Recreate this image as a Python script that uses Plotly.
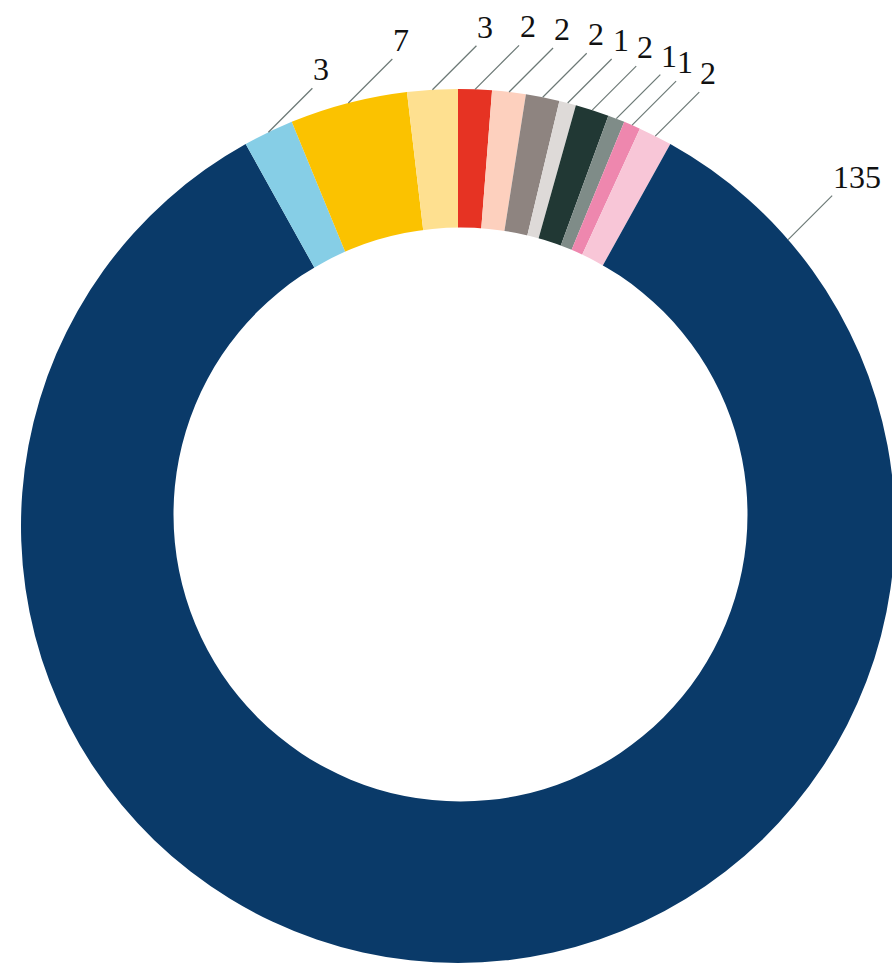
import math
import plotly.graph_objects as go

# ---- data (clockwise from 12 o'clock) ----
categories = ["Cat A", "Cat B", "Cat C", "Cat D", "Cat E", "Cat F",
              "Cat G", "Cat H", "Cat I", "Cat J", "Cat K", "Cat L"]
values = [2, 2, 2, 1, 2, 1, 1, 2, 135, 3, 7, 3]
colors = ["#E63323", "#FDD0BE", "#8E8480", "#DEDAD8", "#213834", "#7F8C88",
          "#EE87AE", "#F8C6D7", "#0A3A69", "#86CEE6", "#FBC200", "#FEE090"]
value_labels = [str(v) for v in values]

# ---- layout geometry (pixels) ----
ML, MT = 21, 89
PW = PH = 874
W = ML + PW
H = 965
MR = 0
MB = H - MT - PH
R = PW / 2.0
CX, CY = ML + PW / 2.0, MT + PH / 2.0
LEAD_DX, LEAD_DY = 44, -44      # leader line direction/length
MAX_ANCHOR_OFFSET = 20.0        # degrees into a slice for the label anchor
HOLE_R = 287                    # inner hole radius (px)
HOLE_DX, HOLE_DY = 2.5, -11.5   # hole centre offset (px)


def px2x(px):
    return (px - ML) / PW


def py2y(py):
    return 1 - (py - MT) / PH


total = float(sum(values))
fig = go.Figure(go.Pie(
    labels=categories, values=values, sort=False, direction="clockwise",
    rotation=0, hole=0.6, textinfo="none", showlegend=False,
    marker=dict(colors=colors, line=dict(width=0)),
))

shapes, annotations = [], []
cum = 0.0
for v, lab in zip(values, value_labels):
    start_deg = cum / total * 360.0
    mid_deg = (cum + v / 2.0) / total * 360.0
    cum += v
    ang = math.radians(min(mid_deg, start_deg + MAX_ANCHOR_OFFSET))
    sx, sy = CX + R * math.sin(ang), CY - R * math.cos(ang)
    ex, ey = sx + LEAD_DX, sy + LEAD_DY
    shapes.append(dict(type="line", xref="paper", yref="paper",
                       x0=px2x(sx), y0=py2y(sy), x1=px2x(ex), y1=py2y(ey),
                       line=dict(color="#6B7875", width=1.2)))
    annotations.append(dict(xref="paper", yref="paper", x=px2x(ex), y=py2y(ey),
                            xanchor="left", yanchor="bottom", showarrow=False,
                            text=lab, borderpad=0,
                            font=dict(family="Liberation Serif", size=32, color="#111111")))

hx, hy = CX + HOLE_DX, CY + HOLE_DY
shapes.append(dict(type="circle", xref="paper", yref="paper", layer="above",
                   x0=px2x(hx - HOLE_R), x1=px2x(hx + HOLE_R),
                   y0=py2y(hy + HOLE_R), y1=py2y(hy - HOLE_R),
                   fillcolor="white", line=dict(width=0)))

fig.update_layout(
    width=W, height=H, margin=dict(l=ML, r=MR, t=MT, b=MB),
    paper_bgcolor="white", plot_bgcolor="white",
    shapes=shapes, annotations=annotations,
)
fig.write_html(
    "out.html",
    config={"displayModeBar": False},
    post_script="document.body.style.margin='0';document.body.style.overflow='hidden';"
                "document.documentElement.style.overflow='hidden';",
)
